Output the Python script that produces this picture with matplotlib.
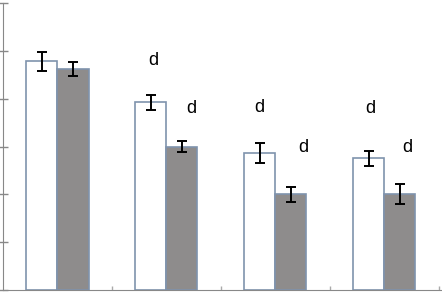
import matplotlib.pyplot as plt
import numpy as np

plt.rcParams['font.family'] = ['Liberation Sans', 'DejaVu Sans']

groups = np.arange(4)
white_vals = [4.78, 3.92, 2.86, 2.75]
white_err = [0.20, 0.16, 0.21, 0.15]
gray_vals = [4.62, 3.00, 2.00, 2.00]
gray_err = [0.15, 0.11, 0.16, 0.21]

# significance letters: (x, y, text)
letter_x = [0.88, 1.23, 1.85, 2.26, 2.87, 3.21]
letter_y = [4.79, 3.80, 3.82, 2.97, 3.80, 2.97]
letters = ['d', 'd', 'd', 'd', 'd', 'd']

edge = '#7f93ad'
w = 0.285

fig = plt.figure(figsize=(4.42, 2.93), dpi=100)
ax = fig.add_axes([3 / 442, 3 / 293, 439 / 442, 287 / 293])

ax.bar(groups - w / 2, white_vals, w, color='white', edgecolor=edge, linewidth=1.2,
       yerr=white_err, error_kw=dict(ecolor='black', elinewidth=1.4, capsize=3.8, capthick=1.4))
ax.bar(groups + w / 2, gray_vals, w, color='#8e8c8c', edgecolor=edge, linewidth=1.2,
       yerr=gray_err, error_kw=dict(ecolor='black', elinewidth=1.4, capsize=3.8, capthick=1.4))

for x, y, t in zip(letter_x, letter_y, letters):
    ax.text(x, y, t, ha='center', va='center', fontsize=13)

ax.set_xlim(-0.5, 3.53)
ax.set_ylim(0, 6.0)
ax.set_yticks(np.arange(0, 7, 1))
ax.set_yticklabels([])
ax.set_xticks([0.5, 1.5, 2.5, 3.5])
ax.set_xticklabels([])
ax.tick_params(axis='y', direction='inout', length=7, color='#888888', width=1)
ax.tick_params(axis='x', direction='in', length=3, color='#aaaaaa', width=1)
for s in ['top', 'right']:
    ax.spines[s].set_visible(False)
ax.spines['left'].set_color('#888888')
ax.spines['bottom'].set_color('#888888')

fig.savefig('out.png', dpi=100)
